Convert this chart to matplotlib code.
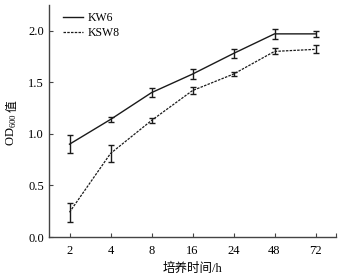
import matplotlib
matplotlib.use("Agg")
import matplotlib.pyplot as plt
from matplotlib.ticker import FixedLocator
from matplotlib.lines import Line2D

plt.rcParams['font.family'] = ['Liberation Serif', 'Noto Sans CJK SC']
plt.rcParams['mathtext.fontset'] = 'custom'
plt.rcParams['mathtext.rm'] = 'Liberation Serif'

times = ['2', '4', '8', '16', '24', '48', '72']
kw6 = [0.90, 1.14, 1.40, 1.58, 1.78, 1.97, 1.97]
kw6_err = [0.085, 0.027, 0.045, 0.045, 0.04, 0.05, 0.03]
ksw8 = [0.24, 0.81, 1.13, 1.42, 1.58, 1.80, 1.82]
ksw8_err = [0.09, 0.08, 0.02, 0.03, 0.02, 0.03, 0.04]
yticks = [0.0, 0.5, 1.0, 1.5, 2.0]

fig = plt.figure(figsize=(3.43, 2.76), dpi=100)
ax = fig.add_axes([49/343, 39/276, (336-49)/343, (237-5)/276])

x = list(range(len(times)))
ax.errorbar(x, kw6, yerr=kw6_err, color='#1a1a1a', lw=1.0, ls='-',
            capsize=2.5, elinewidth=1.0, capthick=1.0)
ax.errorbar(x, ksw8, yerr=ksw8_err, color='#1a1a1a', lw=0.9, ls=(0, (2, 1)),
            capsize=2.5, elinewidth=1.0, capthick=1.0)

ax.set_xlim(-0.5, 6.5)
ax.set_ylim(0, 2.25)
ax.set_xticks(x)
ax.set_xticklabels(times)
ax.xaxis.set_minor_locator(FixedLocator([6.5]))
ax.set_yticks(yticks)
ax.set_yticklabels([f'{v:.1f}' for v in yticks])
ax.tick_params(axis='both', direction='in', length=3, width=0.8, labelsize=9, color='#444444')
ax.tick_params(axis='x', which='minor', direction='in', length=3, width=0.8, color='#444444')
ax.tick_params(axis='x', pad=6)
for s in ['top', 'right']:
    ax.spines[s].set_visible(False)
for s in ['left', 'bottom']:
    ax.spines[s].set_color('#444444')
    ax.spines[s].set_linewidth(1.0)

ax.set_xlabel('培养时间/h', fontsize=9, labelpad=4)

# y label with subscript and CJK char, placed end to end
t1 = fig.text(12/343, 1 - 146/276, 'OD$_{600}$', rotation=90, fontsize=9,
              ha='center', va='bottom')
fig.canvas.draw()
bb = t1.get_window_extent(fig.canvas.get_renderer())
fig.text(12/343, (bb.y1 + 1) / fig.bbox.height, '值', rotation=90, fontsize=8.5,
         ha='center', va='bottom', family=['Noto Sans CJK SC'])

h = [Line2D([], [], color='#1a1a1a', lw=1.0, ls='-'),
     Line2D([], [], color='#1a1a1a', lw=0.9, ls=(0, (2, 1)))]
ax.legend(h, ['KW6', 'KSW8'], loc='upper left', frameon=False, fontsize=8.5,
          handlelength=1.7, handletextpad=0.35, labelspacing=0.25,
          borderpad=0, borderaxespad=0, bbox_to_anchor=(0.049, 0.97))

fig.savefig('out.png', dpi=100)
